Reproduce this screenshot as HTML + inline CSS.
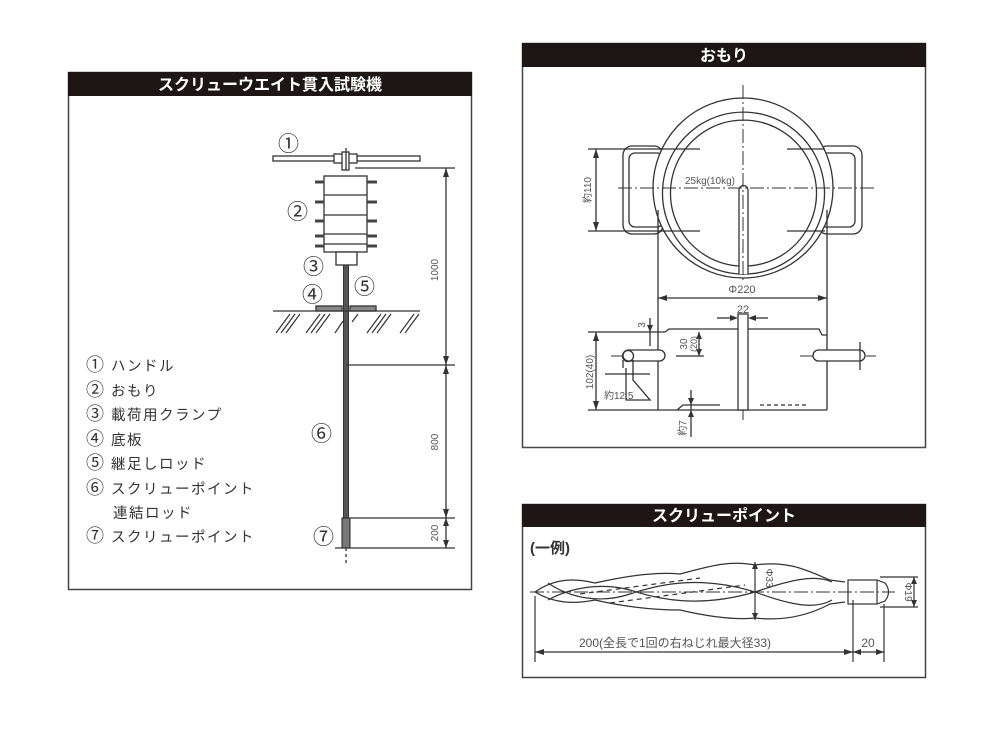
<!DOCTYPE html>
<html><head><meta charset="utf-8"><style>
html,body{margin:0;padding:0;background:#fff;}
svg{display:block;}
text{font-family:"Liberation Sans","Noto Sans CJK JP",sans-serif;}
</style></head><body>
<svg width="1000" height="750" viewBox="0 0 1000 750" xmlns="http://www.w3.org/2000/svg">
<!-- LEFT PANEL -->
<rect x="68.5" y="72.5" width="403" height="517" fill="#fff" stroke="#444" stroke-width="1.5"/>
<rect x="68" y="72" width="404" height="24" fill="#1e1614"/>
<text x="270" y="90" fill="#fff" font-size="16" text-anchor="middle" font-weight="bold">スクリューウエイト貫入試験機</text>
<g stroke="#333" fill="none" stroke-width="1.3">
 <rect x="273" y="156" width="147" height="5" fill="#fff"/>
 <rect x="334" y="154" width="23" height="9" fill="#fff"/>
 <rect x="342" y="152" width="7" height="18" fill="#fff"/>
 <line x1="346" y1="148" x2="346" y2="170"/>
 <rect x="324" y="176" width="43" height="76" fill="#fff"/>
 <line x1="324" y1="195" x2="367" y2="195"/><line x1="324" y1="215" x2="367" y2="215"/>
 <line x1="324" y1="234" x2="367" y2="234"/><line x1="324" y1="244" x2="367" y2="244"/>
 <g stroke-width="3" stroke="#444">
  <line x1="315" y1="182" x2="324" y2="182"/><line x1="367" y1="182" x2="377" y2="182"/>
  <line x1="315" y1="202" x2="324" y2="202"/><line x1="367" y1="202" x2="377" y2="202"/>
  <line x1="315" y1="221" x2="324" y2="221"/><line x1="367" y1="221" x2="377" y2="221"/>
  <line x1="315" y1="236" x2="324" y2="236"/><line x1="367" y1="236" x2="377" y2="236"/>
  <line x1="315" y1="246" x2="324" y2="246"/><line x1="367" y1="246" x2="377" y2="246"/>
 </g>
 <rect x="336" y="252" width="21" height="13" fill="#fff"/>
 <rect x="343.5" y="265" width="5" height="253" fill="#555" stroke="#333" stroke-width="1"/>
 <rect x="342" y="518" width="8" height="30" fill="#777" stroke="#222" stroke-width="1"/>
 <line x1="346" y1="548" x2="346" y2="565" stroke-dasharray="3 3"/>
 <line x1="273" y1="311" x2="420" y2="311"/>
 <rect x="316" y="306" width="26" height="5" fill="#888"/>
 <rect x="350" y="306" width="26" height="5" fill="#888"/>
 <g stroke-width="1.2">
  <path d="M276 333 L290 314 M281 333 L295 314 M286 333 L300 314"/>
  <path d="M306 333 L320 314 M311 333 L325 314 M316 333 L330 314"/>
  <path d="M335 333 L343 321 M352 322 L358 314"/>
  <path d="M367 333 L381 314 M372 333 L386 314 M377 333 L391 314"/>
  <path d="M400 333 L414 314 M405 333 L419 314"/>
 </g>
 <line x1="355" y1="168" x2="455" y2="168"/>
 <line x1="346" y1="365" x2="455" y2="365"/>
 <line x1="350" y1="518" x2="455" y2="518"/>
 <line x1="335" y1="548" x2="455" y2="548"/>
 <line x1="446" y1="168" x2="446" y2="548"/>
</g>
<g fill="#333">
 <path d="M446 168 l-3 9 h6z"/><path d="M446 365 l-3 -9 h6z"/>
 <path d="M446 365 l-3 9 h6z"/><path d="M446 518 l-3 -9 h6z"/>
 <path d="M446 518 l-3 8 h6z"/><path d="M446 548 l-3 -8 h6z"/>
</g>
<g font-size="10" fill="#555">
 <text transform="translate(438,270) rotate(-90)" text-anchor="middle">1000</text>
 <text transform="translate(438,442) rotate(-90)" text-anchor="middle">800</text>
 <text transform="translate(438,533) rotate(-90)" text-anchor="middle">200</text>
</g>
<g font-size="21" fill="#333">
 <text x="278" y="151">①</text><text x="287" y="219">②</text><text x="303" y="274">③</text>
 <text x="302" y="302">④</text><text x="354" y="294">⑤</text><text x="311" y="441">⑥</text>
 <text x="313" y="544">⑦</text>
</g>
<g font-size="14.5" fill="#333" letter-spacing="1.5">
 <text x="86" y="371"><tspan font-size="18">①</tspan> ハンドル</text>
 <text x="86" y="396"><tspan font-size="18">②</tspan> おもり</text>
 <text x="86" y="420"><tspan font-size="18">③</tspan> 載荷用クランプ</text>
 <text x="86" y="445"><tspan font-size="18">④</tspan> 底板</text>
 <text x="86" y="469"><tspan font-size="18">⑤</tspan> 継足しロッド</text>
 <text x="86" y="494"><tspan font-size="18">⑥</tspan> スクリューポイント</text>
 <text x="113" y="518">連結ロッド</text>
 <text x="86" y="542"><tspan font-size="18">⑦</tspan> スクリューポイント</text>
</g>

<!-- TOP RIGHT PANEL -->
<rect x="522.5" y="43.5" width="403" height="404" fill="#fff" stroke="#444" stroke-width="1.5"/>
<rect x="522" y="43" width="404" height="24" fill="#1e1614"/>
<text x="724" y="61" fill="#fff" font-size="16" font-weight="bold" text-anchor="middle">おもり</text>
<g stroke="#333" fill="none" stroke-width="1.3">
 <rect x="623" y="146" width="40" height="88" rx="9"/>
 <rect x="629" y="153" width="34" height="74" rx="6"/>
 <rect x="818" y="146" width="44" height="88" rx="9"/>
 <rect x="818" y="153" width="37" height="74" rx="6"/>
 <circle cx="743" cy="188" r="90" fill="#fff"/>
 <path d="M739 274 A81 81 0 1 1 748 274"/>
 <path d="M739 266 A73 73 0 1 1 748 266"/>
 <line x1="739" y1="274" x2="748" y2="274"/>
 <path d="M739 274 V190 A4.5 4.5 0 0 1 748 190 V274" fill="#fff"/>
 <g stroke-dasharray="14 3 2 3" stroke-width="1">
  <line x1="743" y1="85" x2="743" y2="282"/>
  <line x1="618" y1="188" x2="874" y2="188"/>
  <line x1="743" y1="318" x2="743" y2="422"/>
  <line x1="611" y1="356" x2="665" y2="356"/>
  <line x1="800" y1="356" x2="876" y2="356"/>
 </g>
 <line x1="588" y1="149" x2="700" y2="149"/>
 <line x1="588" y1="231" x2="700" y2="231"/>
 <line x1="787" y1="149" x2="825" y2="149"/><line x1="787" y1="231" x2="825" y2="231"/>
 <line x1="596" y1="149" x2="596" y2="231"/>
 <line x1="658" y1="210" x2="658" y2="410"/>
 <line x1="827" y1="210" x2="827" y2="410"/>
 <line x1="658" y1="298" x2="827" y2="298"/>
 <line x1="588" y1="332" x2="665" y2="332"/>
 <path d="M665 332 L669 329 L819 329 L822 335 L827 335"/>
 <line x1="588" y1="410" x2="827" y2="410"/>
 <path d="M677 410 L683 405 L720 405"/>
 <path d="M760 405 L808 405" stroke-dasharray="4 3"/>
 <rect x="738" y="314" width="10" height="96" fill="#fff"/>
 <line x1="596" y1="332" x2="596" y2="410"/>
 <line x1="650" y1="318" x2="650" y2="346"/>
 <line x1="699" y1="332" x2="699" y2="356"/>
 <line x1="676" y1="356" x2="704" y2="356"/>
 <line x1="717" y1="318" x2="733" y2="318"/><line x1="753" y1="318" x2="768" y2="318"/>
 <rect x="623" y="350" width="42" height="11" rx="5.5" fill="#fff"/>
 <circle cx="628" cy="356" r="5.5"/>
 <path d="M623 360 V368 M633 360 V380 L650 400 L626 400 L626 368"/>
 <line x1="605" y1="374" x2="650" y2="374"/>
 <rect x="813" y="350" width="52" height="11" rx="5.5" fill="#fff"/>
 <line x1="860" y1="342" x2="860" y2="370"/>
 <line x1="691" y1="390" x2="691" y2="437"/>
</g>
<g fill="#333">
 <path d="M596 149 l-3 9 h6z"/><path d="M596 231 l-3 -9 h6z"/>
 <path d="M658 298 l9 -3 v6z"/><path d="M827 298 l-9 -3 v6z"/>
 <path d="M596 332 l-3 9 h6z"/><path d="M596 410 l-3 -9 h6z"/>
 <path d="M738 318 l-8 -3 v6z"/><path d="M748 318 l8 -3 v6z"/>
 <path d="M699 332 l-3 7 h6z"/><path d="M699 356 l-3 -7 h6z"/>
 <path d="M650 332 l-3 -7 h6z"/>
 <path d="M691 405 l-3 -7 h6z"/><path d="M691 410 l-3 7 h6z"/>
</g>
<g font-size="10" fill="#555">
 <text x="710" y="184" text-anchor="middle">25kg(10kg)</text>
 <text transform="translate(591,190) rotate(-90)" text-anchor="middle">約110</text>
 <text x="742" y="293" text-anchor="middle" font-size="11">Φ220</text>
 <text x="743" y="313" text-anchor="middle" font-size="11">22</text>
 <text transform="translate(645,325) rotate(-90)" text-anchor="middle">3</text>
 <text transform="translate(687,344) rotate(-90)" text-anchor="middle">30</text>
 <text transform="translate(697,344) rotate(-90)" text-anchor="middle" font-size="9">(20)</text>
 <text transform="translate(593,372) rotate(-90)" text-anchor="middle">102(40)</text>
 <text x="604" y="399">約12.5</text>
 <text transform="translate(686,428) rotate(-90)" text-anchor="middle">約7</text>
</g>

<!-- BOTTOM RIGHT PANEL -->
<rect x="522.5" y="504.5" width="403" height="173" fill="#fff" stroke="#444" stroke-width="1.5"/>
<rect x="522" y="504" width="404" height="23" fill="#1e1614"/>
<text x="724" y="521" fill="#fff" font-size="16" font-weight="bold" text-anchor="middle">スクリューポイント</text>
<text x="530" y="553" font-size="15" font-weight="bold" fill="#333">(一例)</text>
<g stroke="#333" fill="none" stroke-width="1.2">
 <path d="M535 592 C555 578 575 578 595 583 C630 575 660 572 680 574 C710 566 730 560 755 565 C790 560 810 572 830 580 L845 582"/>
 <path d="M535 592 C555 604 575 604 595 600 C630 608 660 610 680 610 C710 617 735 620 755 618 C790 622 815 612 830 604 L845 602"/>
 <path d="M548 583 C570 598 600 604 630 594 C660 584 700 575 755 592 C790 605 815 610 832 600"/>
 <path d="M548 600 C570 588 600 582 630 590 C660 600 700 608 755 592 C790 580 815 574 832 582"/>
 <path d="M580 594 L700 578 M610 603 L745 585" stroke-dasharray="5 4"/>
 <line x1="755" y1="562" x2="755" y2="620"/>
 <rect x="848" y="580" width="29" height="24" fill="#fff"/>
 <path d="M877 580 L885 583 Q892 592 885 601 L877 604"/>
 <line x1="880" y1="577" x2="918" y2="577"/><line x1="880" y1="607" x2="918" y2="607"/>
 <line x1="914" y1="577" x2="914" y2="607"/>
 <line x1="535" y1="596" x2="535" y2="662"/>
 <line x1="853" y1="600" x2="853" y2="662"/>
 <line x1="884" y1="604" x2="884" y2="662"/>
 <line x1="535" y1="652" x2="884" y2="652"/>
</g>
<line x1="530" y1="592" x2="895" y2="592" stroke="#333" stroke-width="1" stroke-dasharray="14 3 2 3"/>
<g fill="#333">
 <path d="M535 652 l9 -3 v6z"/><path d="M853 652 l-9 -3 v6z"/>
 <path d="M853 652 l8 -3 v6z"/><path d="M884 652 l-8 -3 v6z"/>
 <path d="M914 577 l-3 7 h6z"/><path d="M914 607 l-3 -7 h6z"/>
 <path d="M755 562 l-3 7 h6z"/><path d="M755 620 l-3 -7 h6z"/>
</g>
<g fill="#555">
 <text x="675" y="647" font-size="12" text-anchor="middle">200(全長で1回の右ねじれ最大径33)</text>
 <text x="868" y="647" font-size="12" text-anchor="middle">20</text>
 <text transform="translate(766,578) rotate(90)" font-size="10" text-anchor="middle">Φ33</text>
 <text transform="translate(905,592) rotate(90)" font-size="10" text-anchor="middle">Φ19</text>
</g>
</svg>
</body></html>
